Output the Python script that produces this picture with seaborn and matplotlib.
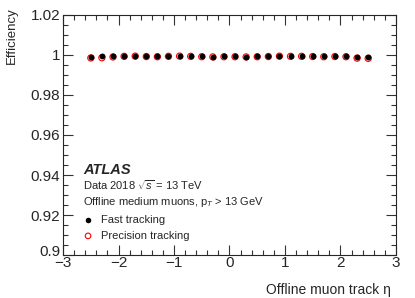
import numpy as np
import pandas as pd
import seaborn as sns
import matplotlib.pyplot as plt
import matplotlib.transforms as mtransforms
from matplotlib.ticker import MultipleLocator

eta = [-2.5, -2.3, -2.1, -1.9, -1.7, -1.5, -1.3, -1.1, -0.9, -0.7, -0.5, -0.3, -0.1,
       0.1, 0.3, 0.5, 0.7, 0.9, 1.1, 1.3, 1.5, 1.7, 1.9, 2.1, 2.3, 2.5]
fast_eff = [0.9990, 0.9993, 0.9994, 0.9995, 0.9996, 0.9994, 0.9993, 0.9995, 0.9996,
            0.9995, 0.9993, 0.9992, 0.9993, 0.9993, 0.9992, 0.9993, 0.9994, 0.9996,
            0.9995, 0.9995, 0.9994, 0.9993, 0.9994, 0.9993, 0.9991, 0.9990]
prec_eff = [0.9985, 0.9986, 0.9990, 0.9993, 0.9994, 0.9992, 0.9991, 0.9993, 0.9994,
            0.9993, 0.9991, 0.9990, 0.9991, 0.9991, 0.9990, 0.9991, 0.9992, 0.9994,
            0.9993, 0.9993, 0.9992, 0.9991, 0.9992, 0.9991, 0.9984, 0.9983]
x_ticks = [-3, -2, -1, 0, 1, 2, 3]
x_labels = ["\u22123", "\u22122", "\u22121", "0", "1", "2", "3"]
y_ticks = [0.9, 0.92, 0.94, 0.96, 0.98, 1.0, 1.02]
y_labels = ["0.9", "0.92", "0.94", "0.96", "0.98", "1", "1.02"]

sns.set_style("ticks")
plt.rcParams["font.family"] = ["Liberation Sans", "DejaVu Sans"]
plt.rcParams["mathtext.fontset"] = "custom"
plt.rcParams["mathtext.rm"] = "Liberation Sans"
plt.rcParams["mathtext.it"] = "Liberation Sans:italic"

df = pd.DataFrame({
    "eta": eta * 2,
    "eff": fast_eff + prec_eff,
    "method": ["Fast tracking"] * len(eta) + ["Precision tracking"] * len(eta),
})

fig = plt.figure(figsize=(4.15, 2.98), dpi=100)
ax = fig.add_axes([0.152, 0.144, 0.802, 0.806])

sns.scatterplot(data=df[df.method == "Fast tracking"], x="eta", y="eff",
                color="black", s=18, linewidth=0, ax=ax, legend=False, zorder=3)
sns.scatterplot(data=df[df.method == "Precision tracking"], x="eta", y="eff",
                facecolor="none", edgecolor="red", s=20, linewidth=0.8,
                ax=ax, legend=False, zorder=2)

ax.set_xticks(x_ticks)
ax.set_xticklabels(x_labels)
ax.set_yticks(y_ticks)
ax.set_yticklabels(y_labels)
ax.xaxis.set_minor_locator(MultipleLocator(0.2))
ax.yaxis.set_minor_locator(MultipleLocator(0.005))
ax.set_xlim(-3, 3)
ax.set_ylim(0.9, 1.02)
ax.tick_params(which="both", direction="in", top=True, right=True,
               labelsize=11, width=0.8, color="#333333")
ax.tick_params(axis="x", which="both", pad=1)
ax.tick_params(axis="y", which="both", pad=2)
ax.tick_params(which="major", length=7)
ax.tick_params(which="minor", length=3.5)
for sp in ax.spines.values():
    sp.set_linewidth(0.8)
# nudge "0.9" up a little so it only brushes the "-3"
lab0 = ax.get_yticklabels()[0]
lab0.set_transform(lab0.get_transform() +
                   mtransforms.ScaledTranslation(0, 3 / 72, fig.dpi_scale_trans))

ax.set_xlabel("Offline muon track \u03b7", fontsize=10, ha="right", x=0.985, labelpad=9)
ax.set_ylabel("Efficiency", fontsize=9.5, ha="right", y=1.03, labelpad=9)

tx = 0.06
ax.text(tx, 0.355, "ATLAS", transform=ax.transAxes, fontsize=10.5,
        fontweight="bold", fontstyle="italic", va="center")
ax.text(tx, 0.29, "Data 2018 $\\sqrt{s}$ = 13 TeV", transform=ax.transAxes,
        fontsize=8, va="center")
ax.text(tx, 0.22, "Offline medium muons, p$_{T}$ > 13 GeV", transform=ax.transAxes,
        fontsize=8, va="center")

ax.scatter([0.075], [0.146], transform=ax.transAxes, s=16, color="black",
           linewidth=0, clip_on=False)
ax.scatter([0.075], [0.08], transform=ax.transAxes, s=16, facecolor="none",
           edgecolor="red", linewidth=0.8, clip_on=False)
ax.text(0.115, 0.146, "Fast tracking", transform=ax.transAxes, fontsize=8, va="center")
ax.text(0.115, 0.08, "Precision tracking", transform=ax.transAxes, fontsize=8, va="center")

fig.savefig("out.png", dpi=100)
